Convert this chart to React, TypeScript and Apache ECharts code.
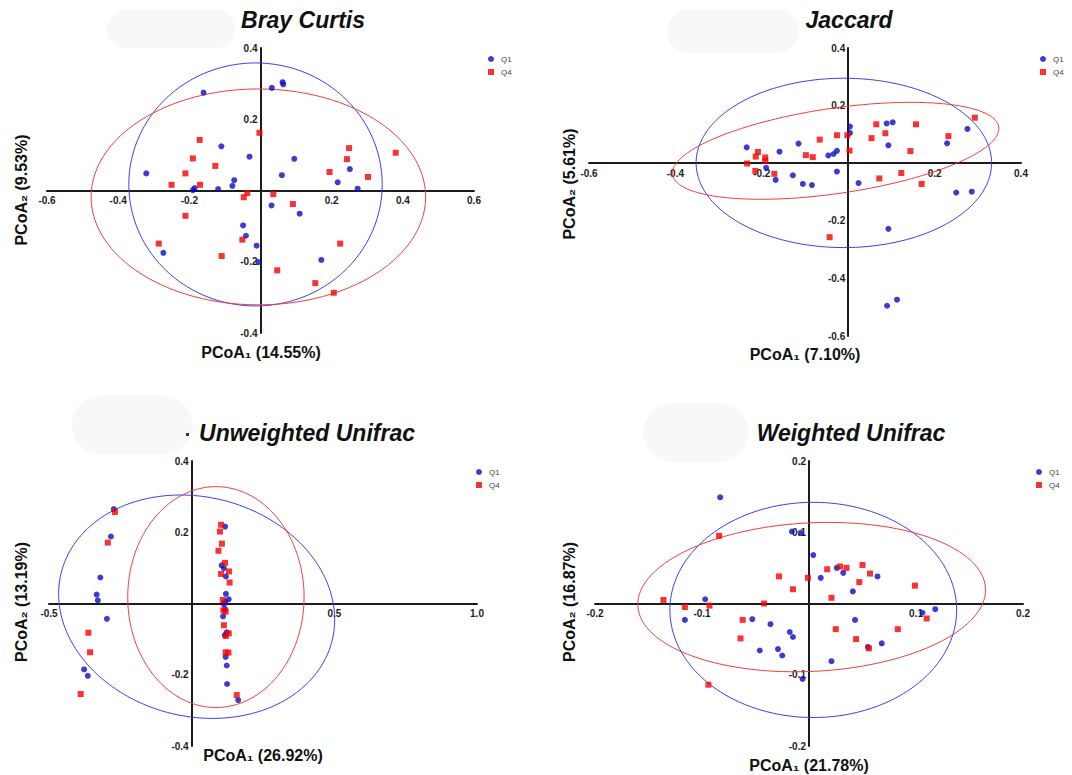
import React, { useEffect, useRef } from "react";
import * as echarts from "echarts";

// ---------- data ----------
const panelTitles = ["Bray Curtis", "Jaccard", "Unweighted Unifrac", "Weighted Unifrac"];
const xAxisNames = ["PCoA\u2081 (14.55%)", "PCoA\u2081 (7.10%)", "PCoA\u2081 (26.92%)", "PCoA\u2081 (21.78%)"];
const yAxisNames = ["PCoA\u2082 (9.53%)", "PCoA\u2082 (5.61%)", "PCoA\u2082 (13.19%)", "PCoA\u2082 (16.87%)"];
const groups = ["Q1", "Q4"];

// axis ranges: [min, max, interval]
const xRanges = [[-0.6, 0.6, 0.2], [-0.6, 0.4, 0.2], [-0.5, 1.0, 0.5], [-0.2, 0.2, 0.1]];
const yRanges = [[-0.4, 0.4, 0.2], [-0.6, 0.4, 0.2], [-0.4, 0.4, 0.2], [-0.2, 0.2, 0.1]];

const brayQ1 = [
  [-0.160, 0.275], [0.032, 0.288], [0.062, 0.304], [0.064, 0.298], [-0.110, 0.124],
  [-0.031, 0.095], [0.095, 0.089], [-0.321, 0.048], [0.060, 0.043], [0.251, 0.060],
  [0.217, 0.023], [0.273, 0.005], [-0.074, 0.029], [-0.079, 0.013], [-0.119, 0.004],
  [-0.185, 0.007], [-0.190, 0.001], [0.031, -0.042], [0.110, -0.065], [-0.049, -0.098],
  [-0.041, -0.127], [-0.011, -0.155], [-0.006, -0.201], [-0.273, -0.175], [0.171, -0.195],
];
const brayQ4 = [
  [-0.003, 0.162], [-0.171, 0.142], [-0.190, 0.090], [-0.127, 0.069], [-0.211, 0.048],
  [-0.250, 0.016], [-0.170, 0.016], [0.249, 0.119], [0.243, 0.088], [0.380, 0.106],
  [0.194, 0.052], [0.302, 0.038], [-0.037, -0.007], [-0.047, -0.019], [0.036, -0.010],
  [0.091, -0.038], [-0.211, -0.071], [-0.286, -0.149], [-0.051, -0.138], [-0.109, -0.184],
  [0.047, -0.224], [0.224, -0.149], [0.154, -0.260], [0.206, -0.287],
];

const jaccardQ1 = [
  [0.004, 0.127], [0.004, 0.105], [0.089, 0.138], [0.103, 0.142], [0.093, 0.062],
  [0.276, 0.119], [0.229, 0.069], [-0.235, 0.055], [-0.159, 0.040], [-0.115, 0.068],
  [-0.046, 0.027], [-0.034, 0.032], [-0.026, 0.043], [-0.190, -0.016], [-0.168, -0.058],
  [-0.128, -0.042], [-0.105, -0.072], [-0.084, -0.076], [-0.026, -0.029], [0.024, -0.069],
  [0.250, -0.102], [0.286, -0.099], [0.093, -0.228], [0.090, -0.495], [0.113, -0.474],
];
const jaccardQ4 = [
  [0.293, 0.158], [0.232, 0.094], [0.157, 0.135], [0.065, 0.135], [0.086, 0.104],
  [0.054, 0.087], [-0.002, 0.097], [-0.026, 0.097], [-0.066, 0.082], [0.003, 0.044],
  [-0.098, 0.028], [-0.082, 0.021], [-0.209, 0.039], [-0.214, 0.023], [-0.192, 0.020],
  [-0.192, 0.008], [-0.234, -0.001], [-0.215, -0.027], [-0.171, -0.037], [0.144, 0.042],
  [0.123, -0.034], [0.072, -0.053], [0.170, -0.072], [-0.043, -0.257],
];

const unweightedQ1 = [
  [-0.273, 0.265], [-0.283, 0.188], [-0.320, 0.073], [-0.333, 0.025], [-0.329, 0.009],
  [-0.297, -0.043], [-0.377, -0.185], [-0.364, -0.203], [0.117, 0.216], [0.105, 0.107],
  [0.113, 0.099], [0.120, 0.076], [0.120, 0.027], [0.130, 0.012], [0.118, 0.005],
  [0.113, -0.002], [0.117, -0.016], [0.110, -0.036], [0.123, -0.081], [0.116, -0.089],
  [0.119, -0.150], [0.123, -0.174], [0.124, -0.226], [0.163, -0.271],
];
const unweightedQ4 = [
  [-0.269, 0.257], [-0.294, 0.171], [-0.362, -0.082], [-0.356, -0.137], [-0.389, -0.254],
  [0.103, 0.221], [0.099, 0.202], [0.106, 0.168], [0.094, 0.148], [0.117, 0.114],
  [0.131, 0.090], [0.103, 0.083], [0.133, 0.059], [0.109, 0.010], [0.111, -0.019],
  [0.119, -0.023], [0.113, -0.061], [0.130, -0.084], [0.120, -0.091], [0.119, -0.137],
  [0.129, -0.138], [0.158, -0.257],
];

const weightedQ1 = [
  [-0.083, 0.149], [-0.016, 0.101], [-0.008, 0.099], [0.004, 0.068], [0.011, 0.036],
  [0.026, 0.050], [0.032, 0.043], [0.064, 0.038], [0.041, 0.017], [-0.097, 0.006],
  [-0.116, -0.023], [-0.053, -0.022], [-0.036, -0.029], [-0.018, -0.040], [-0.015, -0.047],
  [-0.046, -0.066], [-0.029, -0.064], [-0.025, -0.073], [0.043, -0.023], [0.068, -0.056],
  [0.055, -0.061], [0.021, -0.081], [-0.006, -0.106], [0.106, -0.013], [0.118, -0.008],
];
const weightedQ4 = [
  [-0.084, 0.095], [-0.028, 0.038], [-0.001, 0.036], [-0.015, 0.020], [0.017, 0.048],
  [0.029, 0.052], [0.035, 0.050], [0.050, 0.054], [0.057, 0.042], [0.047, 0.030],
  [0.021, 0.008], [0.099, 0.025], [-0.136, 0.005], [-0.116, -0.005], [-0.093, -0.003],
  [-0.042, 0.000], [-0.062, -0.023], [-0.064, -0.049], [0.025, -0.036], [0.044, -0.050],
  [0.056, -0.063], [0.083, -0.036], [0.110, -0.021], [-0.094, -0.114],
];

// confidence ellipses: [centerX, centerY, semiAxisA, semiAxisB, angleDeg] (data units)
const brayEllipses = [[-0.014, 0.017, 0.356, 0.341, 0], [-0.006, -0.018, 0.47, 0.303, 0]];
const jaccardEllipses = [[-0.01, 0.001, 0.342, 0.294, 0], [-0.029, 0.043, 0.387, 0.146, 13.5]];
const unweightedEllipses = [[0.0175, -0.009, 0.486, 0.31, -7.2], [0.085, 0.018, 0.309, 0.31, 0]];
const weightedEllipses = [[0.004, -0.009, 0.134, 0.151, 0], [0.0025, 0.009, 0.163, 0.104, 6]];

const panelPoints = [
  [brayQ1, brayQ4],
  [jaccardQ1, jaccardQ4],
  [unweightedQ1, unweightedQ4],
  [weightedQ1, weightedQ4],
];
const panelEllipses = [brayEllipses, jaccardEllipses, unweightedEllipses, weightedEllipses];

// ---------- layout / style ----------
const FONT = '"Liberation Sans", Arial, Helvetica, sans-serif';
const BLUE = "#0b0bc4";
const RED = "#f50000";
const ELL_COLORS = ["#3b3bf5", "#f23a3a"];

const grids = [
  { left: 47, top: 48, width: 427, height: 285 },
  { left: 589, top: 48, width: 432, height: 288 },
  { left: 49, top: 461, width: 428, height: 285 },
  { left: 595, top: 461, width: 428, height: 285 },
];
const titlePos = [[303, 20], [849, 20], [307, 433], [851, 433]];
const xNamePos = [[261, 352], [805, 354], [263, 755], [809, 765]];
const yNamePos = [[21, 190], [569, 184], [21, 602], [569, 602]];
const legendPos = [[483, 50], [1035, 50], [471, 463], [1031, 463]];
const blobs = [
  [107, 10, 128, 38],
  [667, 10, 132, 43],
  [72, 395, 120, 60],
  [643, 403, 106, 59],
];

function ellipsePoints(p: number[]) {
  const [cx, cy, a, b, deg] = p;
  const th = (deg * Math.PI) / 180;
  const pts: number[][] = [];
  for (let i = 0; i <= 240; i++) {
    const t = (i / 240) * Math.PI * 2;
    pts.push([
      cx + a * Math.cos(th) * Math.cos(t) - b * Math.sin(th) * Math.sin(t),
      cy + a * Math.sin(th) * Math.cos(t) + b * Math.cos(th) * Math.sin(t),
    ]);
  }
  return pts;
}

const fmt = (v: number) => (Math.abs(v) < 1e-9 ? "" : v.toFixed(1));

// move each axis (line + labels) onto the other axis' zero
function axis(gridIndex: number, r: number[], other: number[], isX: boolean) {
  const g = grids[gridIndex];
  const span = isX ? g.height : g.width;
  const offset = -span * ((0 - other[0]) / (other[1] - other[0]));
  return {
    type: "value",
    gridIndex,
    min: r[0],
    max: r[1],
    interval: r[2],
    position: isX ? "bottom" : "left",
    offset,
    axisLine: { onZero: false, lineStyle: { color: "#1c1c1c", width: 2 } },
    axisTick: { show: false },
    splitLine: { show: false },
    axisLabel: {
      fontSize: 10,
      fontWeight: "bold",
      color: "#1c1c1c",
      fontFamily: FONT,
      margin: isX ? 5 : 3,
      formatter: fmt,
    },
  };
}

export default function App() {
  const ref = useRef<HTMLDivElement>(null);
  useEffect(() => {
    document.body.style.margin = "0";
    const chart = echarts.init(ref.current!, null, { renderer: "svg" });
    const series: any[] = [];
    for (let i = 0; i < 4; i++) {
      panelEllipses[i].forEach((e, g) => {
        series.push({
          type: "line",
          name: groups[g] + " ellipse",
          xAxisIndex: i,
          yAxisIndex: i,
          data: ellipsePoints(e),
          showSymbol: false,
          symbol: "none",
          silent: true,
          z: 1,
          lineStyle: { color: ELL_COLORS[g], width: 1 },
        });
      });
      panelPoints[i].forEach((pts, g) => {
        series.push({
          type: "scatter",
          name: groups[g],
          xAxisIndex: i,
          yAxisIndex: i,
          data: pts,
          symbol: g === 0 ? "circle" : "rect",
          symbolSize: 6,
          z: 3,
          itemStyle: { color: g === 0 ? BLUE : RED },
        });
      });
    }
    const graphic: any[] = [];
    blobs.forEach(([x, y, w, h]) =>
      graphic.push({
        type: "rect",
        shape: { x, y, width: w, height: h, r: Math.min(w, h) / 2 },
        style: { fill: "#f8f8f8" },
        z: -10,
        silent: true,
      })
    );
    for (let i = 0; i < 4; i++) {
      graphic.push({
        type: "text",
        x: titlePos[i][0],
        y: titlePos[i][1],
        style: {
          text: panelTitles[i],
          font: `italic bold 23px ${FONT}`,
          fill: "#111",
          textAlign: "center",
          textVerticalAlign: "middle",
        },
      });
      graphic.push({
        type: "text",
        x: xNamePos[i][0],
        y: xNamePos[i][1],
        style: {
          text: xAxisNames[i],
          font: `bold 16px ${FONT}`,
          fill: "#111",
          textAlign: "center",
          textVerticalAlign: "middle",
        },
      });
      graphic.push({
        type: "text",
        x: yNamePos[i][0],
        y: yNamePos[i][1],
        rotation: Math.PI / 2,
        style: {
          text: yAxisNames[i],
          font: `bold 16px ${FONT}`,
          fill: "#111",
          textAlign: "center",
          textVerticalAlign: "middle",
        },
      });
    }
    // small remnant dot before the third title
    graphic.push({ type: "rect", shape: { x: 186, y: 433, width: 3, height: 3 }, style: { fill: "#333" } });

    chart.setOption({
      animation: false,
      backgroundColor: "#ffffff",
      grid: grids.map((g) => ({ ...g, containLabel: false })),
      xAxis: xRanges.map((r, i) => axis(i, r, yRanges[i], true)),
      yAxis: yRanges.map((r, i) => axis(i, r, xRanges[i], false)),
      legend: legendPos.map(([l, t]) => ({
        left: l,
        top: t,
        orient: "vertical",
        itemWidth: 6,
        itemHeight: 6,
        itemGap: 5,
        data: [
          { name: "Q1", icon: "circle" },
          { name: "Q4", icon: "rect" },
        ],
        textStyle: { fontSize: 8, color: "#444", fontFamily: FONT, padding: [0, 0, 0, 2] },
      })),
      graphic,
      series,
    });
    return () => chart.dispose();
  }, []);
  return <div ref={ref} style={{ width: 1072, height: 775 }} />;
}
